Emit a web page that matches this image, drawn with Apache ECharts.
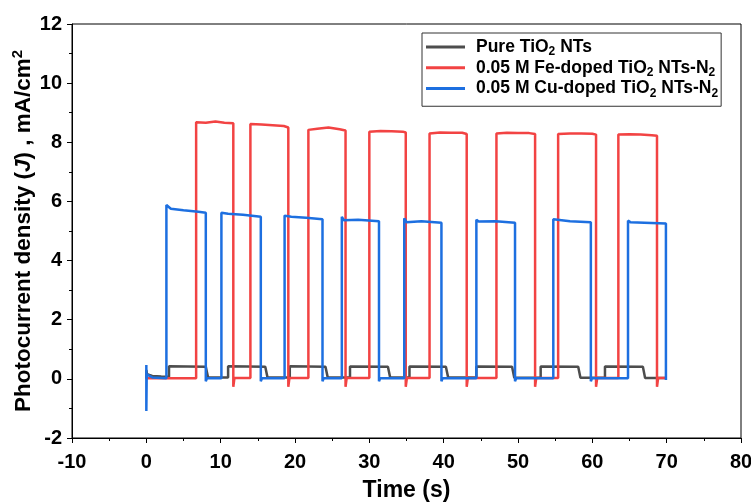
<!DOCTYPE html>
<html>
<head>
<meta charset="utf-8">
<script src="https://cdn.jsdelivr.net/npm/echarts@6/dist/echarts.min.js"></script>
<style>html,body{margin:0;padding:0;background:#fff}#c{width:751px;height:502px}</style>
</head>
<body>
<div id="c"></div>
<script>
// Series names
const seriesNames = ['Pure TiO2 NTs', '0.05 M Fe-doped TiO2 NTs-N2', '0.05 M Cu-doped TiO2 NTs-N2'];
// Axis ticks
const xTicks = [-10, 0, 10, 20, 30, 40, 50, 60, 70, 80];
const yTicks = [-2, 0, 2, 4, 6, 8, 10, 12];

// [time (s), J (mA/cm2)]
const pureData = [[0,0],[0,0.30],[0.1,0.16],[0.8,0.10],[2,0.08],[3.05,0.07],[3.05,0.43],[8.0,0.41],[8.3,0.05],
  [11.0,0.05],[11.0,0.43],[16.0,0.41],[16.3,0.05],[19.3,0.05],[19.3,0.43],[24.1,0.41],[24.4,0.05],
  [27.4,0.05],[27.4,0.42],[32.5,0.41],[32.8,0.05],[35.4,0.05],[35.4,0.42],[40.3,0.41],[40.6,0.05],
  [44.4,0.05],[44.4,0.42],[49.2,0.41],[49.5,0.04],[53.05,0.04],[53.05,0.42],[58.1,0.41],[58.4,0.04],
  [61.7,0.04],[61.7,0.42],[66.8,0.41],[67.1,0.03],[69.9,0.03]];

const feData = [[0,0.02],[6.7,0.02],[6.7,8.68],[8.0,8.66],[9.3,8.70],[10.5,8.66],[11.7,8.64],[11.7,-0.27],[11.85,0.03],
  [14.0,0.03],[14.0,8.62],[15.5,8.60],[17.0,8.58],[18.5,8.55],[19.1,8.50],[19.1,-0.27],[19.25,0.03],
  [21.8,0.03],[21.8,8.42],[23.0,8.46],[24.5,8.50],[26.0,8.44],[26.8,8.40],[26.8,-0.27],[26.95,0.03],
  [30.0,0.03],[30.0,8.36],[31.5,8.38],[33.0,8.37],[34.5,8.36],[34.9,8.33],[34.9,-0.27],[35.05,0.03],
  [38.1,0.03],[38.1,8.30],[39.5,8.33],[41.0,8.32],[42.5,8.32],[43.1,8.28],[43.1,-0.27],[43.25,0.03],
  [47.1,0.03],[47.1,8.30],[48.5,8.32],[50.0,8.31],[51.5,8.31],[52.3,8.28],[52.3,-0.27],[52.45,0.03],
  [55.4,0.03],[55.4,8.28],[57.0,8.30],[58.5,8.30],[60.0,8.29],[60.5,8.26],[60.5,-0.27],[60.65,0.03],
  [63.5,0.03],[63.5,8.26],[65.0,8.27],[66.5,8.26],[68.0,8.24],[68.7,8.22],[68.7,-0.27],[68.85,0.03],[69.9,0.03]];

const cuData = [[0,0],[0,0.47],[0,-1.09],[0.05,0.15],[0.8,0.05],[2.7,0.02],[2.7,5.88],[3.3,5.75],[5.0,5.70],[7.0,5.65],[8.0,5.62],[8.0,-0.08],[8.15,0.02],
  [10.1,0.02],[10.1,5.62],[11.0,5.58],[13.0,5.55],[15.4,5.48],[15.4,-0.08],[15.55,0.02],
  [18.6,0.02],[18.6,5.52],[19.5,5.48],[21.5,5.45],[23.7,5.40],[23.7,-0.08],[23.85,0.02],
  [26.3,0.02],[26.3,5.48],[26.6,5.36],[28.5,5.38],[31.3,5.33],[31.3,-0.08],[31.45,0.02],
  [34.7,0.02],[34.7,5.43],[35.0,5.30],[37.0,5.33],[39.7,5.28],[39.7,-0.08],[39.85,0.02],
  [44.4,0.02],[44.4,5.38],[44.7,5.32],[47.0,5.33],[49.6,5.28],[49.6,-0.08],[49.75,0.02],
  [54.75,0.02],[54.75,5.40],[55.0,5.35],[57.0,5.33],[59.8,5.30],[59.8,-0.08],[59.95,0.02],
  [64.8,0.02],[64.8,5.35],[65.1,5.30],[67.0,5.28],[69.9,5.25],[69.9,-0.04]];

const colors = ['#4d4d4d', '#f24343', '#1d6fe0'];
const FONT = '"Liberation Sans", Arial, sans-serif';

function legendLabel(n) {
  const parts = [];
  const re = /(TiO|N)2/g;
  let last = 0, m;
  while ((m = re.exec(n)) !== null) {
    parts.push('{a|' + n.slice(last, m.index) + m[1] + '}{sub|2}');
    last = m.index + m[0].length;
  }
  if (last < n.length) parts.push('{a|' + n.slice(last) + '}');
  return parts.join('');
}

const chart = echarts.init(document.getElementById('c'), null, {renderer: 'canvas'});
chart.setOption({
  animation: false,
  backgroundColor: '#fff',
  grid: {left: 72, right: 10, top: 24, bottom: 64, containLabel: false, outerBoundsMode: 'none',
    show: true, borderColor: '#000', borderWidth: 1, backgroundColor: 'transparent'},
  legend: {
    orient: 'vertical', left: 422, top: 33,
    data: seriesNames,
    icon: 'rect', itemWidth: 39, itemHeight: 3, itemGap: 1,
    padding: [5, 3, 7, 4],
    borderColor: '#333', borderWidth: 1, backgroundColor: '#fff',
    formatter: legendLabel,
    textStyle: {
      padding: [0, 0, 0, 6],
      rich: {
        a: {fontFamily: FONT, fontWeight: 'bold', fontSize: 17.5, color: '#000', lineHeight: 21.5, verticalAlign: 'middle'},
        sub: {fontFamily: FONT, fontWeight: 'bold', fontSize: 12, color: '#000', lineHeight: 11, verticalAlign: 'bottom'}
      }
    }
  },
  xAxis: {
    type: 'value', min: xTicks[0], max: xTicks[xTicks.length - 1], interval: 10,
    name: 'Time (s)', nameLocation: 'middle', nameGap: 41, nameMoveOverlap: false,
    nameTextStyle: {fontFamily: FONT, fontWeight: 'bold', fontSize: 23, color: '#000'},
    axisLine: {show: true, onZero: false, lineStyle: {color: '#000', width: 1}},
    axisTick: {show: true, inside: false, length: 5, lineStyle: {color: '#000'}},
    minorTick: {show: true, splitNumber: 2, length: 3, lineStyle: {color: '#000'}},
    axisLabel: {fontFamily: FONT, fontWeight: 'bold', fontSize: 20, color: '#000', margin: 14},
    splitLine: {show: false}
  },
  yAxis: {
    type: 'value', min: yTicks[0], max: yTicks[yTicks.length - 1], interval: 2,
    name: '{a|Photocurrent density (}{i|J}{a|) , mA/cm}{sup|2}',
    nameLocation: 'middle', nameGap: 34, nameRotate: 90, nameMoveOverlap: false,
    nameTextStyle: {
      rich: {
        a: {fontFamily: FONT, fontWeight: 'bold', fontSize: 22.5, color: '#000', lineHeight: 28, verticalAlign: 'middle'},
        i: {fontFamily: FONT, fontWeight: 'bold', fontStyle: 'italic', fontSize: 22.5, color: '#000', lineHeight: 28, verticalAlign: 'middle'},
        sup: {fontFamily: FONT, fontWeight: 'bold', fontSize: 15, color: '#000', lineHeight: 15, verticalAlign: 'top'}
      }
    },
    axisLine: {show: true, onZero: false, lineStyle: {color: '#000', width: 1}},
    axisTick: {show: true, inside: false, length: 5, lineStyle: {color: '#000'}},
    minorTick: {show: true, splitNumber: 2, length: 3, lineStyle: {color: '#000'}},
    axisLabel: {fontFamily: FONT, fontWeight: 'bold', fontSize: 20, color: '#000', margin: 10},
    splitLine: {show: false}
  },
  series: [
    {name: seriesNames[0], type: 'line', data: pureData, showSymbol: false, symbol: 'none', lineStyle: {color: colors[0], width: 2.5}, itemStyle: {color: colors[0]}, z: 2},
    {name: seriesNames[1], type: 'line', data: feData, showSymbol: false, symbol: 'none', lineStyle: {color: colors[1], width: 2.5}, itemStyle: {color: colors[1]}, z: 3},
    {name: seriesNames[2], type: 'line', data: cuData, showSymbol: false, symbol: 'none', lineStyle: {color: colors[2], width: 2.5}, itemStyle: {color: colors[2]}, z: 4}
  ]
});
</script>
</body>
</html>
